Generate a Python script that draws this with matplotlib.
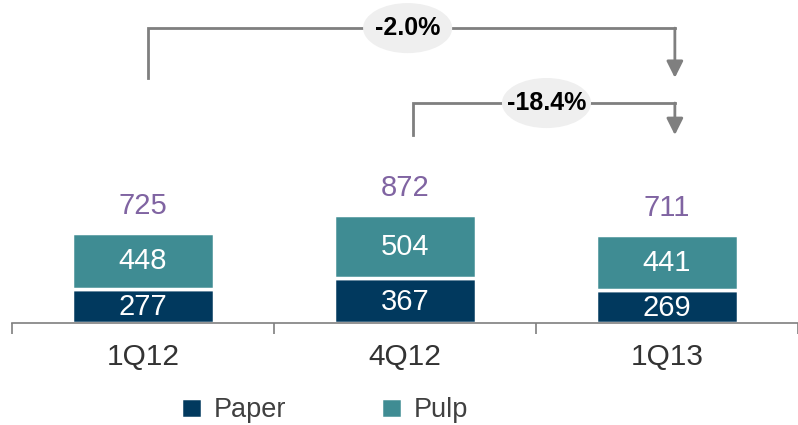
import matplotlib.pyplot as plt
import matplotlib.transforms as mtransforms
from matplotlib.patches import Ellipse

plt.rcParams['font.family'] = ['Liberation Sans', 'DejaVu Sans']

quarters = ['1Q12', '4Q12', '1Q13']
paper = [277, 367, 269]
pulp = [448, 504, 441]
totals = [725, 872, 711]
changes = ['-2.0%', '-18.4%']

c_paper = '#01395E'
c_pulp = '#3F8C93'
c_total = '#8064A2'
c_grey = '#7F7F7F'

fig = plt.figure(figsize=(7.98, 4.25), dpi=100)
ax = fig.add_axes([12 / 798, 1 - 323 / 425, 786 / 798, 323 / 425])

x = list(range(len(quarters)))
w = 0.54
ax.bar(x, paper, w, color=c_paper, edgecolor='white', linewidth=2.5, label='Paper')
ax.bar(x, pulp, w, bottom=paper, color=c_pulp, edgecolor='white', linewidth=2.5, label='Pulp')

for i in x:
    ax.text(i, paper[i] / 2 - 10, str(paper[i]), ha='center', va='center',
            color='white', fontsize=21)
    ax.text(i, paper[i] + pulp[i] / 2, str(pulp[i]), ha='center', va='center',
            color='white', fontsize=21)
    ax.annotate(str(totals[i]), (i, paper[i] + pulp[i]), xytext=(0, 20),
                textcoords='offset points', ha='center', va='center',
                color=c_total, fontsize=21)

ax.set_xlim(-0.5, 2.5)
ax.set_ylim(0, 2615)

for s in ['top', 'right', 'left']:
    ax.spines[s].set_visible(False)
ax.spines['bottom'].set_color(c_grey)
ax.spines['bottom'].set_linewidth(1.2)
ax.set_yticks([])
ax.set_xticks([-0.5, 0.5, 1.5, 2.5])
ax.set_xticklabels([])
ax.tick_params(axis='x', direction='out', length=8, color=c_grey, width=1.2)
for i in x:
    ax.text(i, -0.105, quarters[i], transform=ax.get_xaxis_transform(),
            ha='center', va='center', fontsize=21.5, color='#333333')

# change brackets
tr = mtransforms.blended_transform_factory(ax.transData, ax.transAxes)
brackets = [(0.02, 2.03, 0.913, 0.759), (1.03, 2.03, 0.681, 0.582)]
label_x = [1.01, 1.54]
for (x0, x1, ytop, ybot), lx, txt in zip(brackets, label_x, changes):
    ax.plot([x0, x0, x1], [ybot, ytop, ytop], color=c_grey, lw=2,
            transform=tr, clip_on=False, solid_joinstyle='miter')
    ax.annotate('', xy=(x1, ybot), xytext=(x1, ytop), xycoords=tr, textcoords=tr,
                arrowprops=dict(arrowstyle='-|>,head_length=1.0,head_width=0.5',
                                color=c_grey, lw=2, shrinkA=0, shrinkB=0))
    ax.add_patch(Ellipse((lx, ytop), 0.34, 0.155, transform=tr, facecolor='#EFEFEF',
                         edgecolor='none', clip_on=False, zorder=5))
    ax.text(lx, ytop, txt, transform=tr, ha='center', va='center', fontsize=18,
            fontweight='bold', color='black', zorder=6)

fig.legend(loc='center', bbox_to_anchor=(0.407, 0.035), ncol=2, frameon=False,
           handlelength=0.75, handleheight=0.75, columnspacing=3.5, handletextpad=0.45,
           fontsize=19.5, labelcolor='#404040')

fig.savefig('out.png', dpi=100)
